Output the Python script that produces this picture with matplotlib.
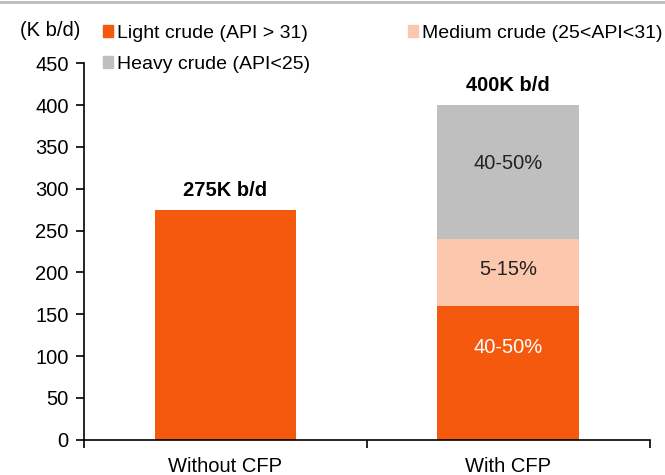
import matplotlib.pyplot as plt
from matplotlib.patches import Patch
from matplotlib.lines import Line2D

plt.rcParams['font.family'] = ['Liberation Sans', 'DejaVu Sans']
plt.rcParams['font.size'] = 14.5

categories = ["Without CFP", "With CFP"]
light = [275, 160]
medium = [0, 80]
heavy = [0, 160]
totals_text = ["275K b/d", "400K b/d"]
share_text = ["40-50%", "5-15%", "40-50%"]

c_light = "#F4590E"
c_medium = "#FBC8AE"
c_heavy = "#BFBFBF"

fig = plt.figure(figsize=(6.65, 4.75), dpi=100)
ax = fig.add_axes([0.126, 0.074, 0.851, 0.793])

x = [0.5, 1.5]
bot2 = [l + m for l, m in zip(light, medium)]
ax.bar(x, light, width=0.5, color=c_light)
ax.bar(x, medium, width=0.5, bottom=light, color=c_medium)
ax.bar(x, heavy, width=0.5, bottom=bot2, color=c_heavy)

for xi, l, m, h, t in zip(x, light, medium, heavy, totals_text):
    ax.text(xi, l + m + h + 12, t, ha="center", va="bottom", fontweight="bold")

ax.text(x[1], 110, share_text[0], ha="center", va="center", color="white")
ax.text(x[1], 203, share_text[1], ha="center", va="center", color="#222222")
ax.text(x[1], 330, share_text[2], ha="center", va="center", color="#222222")

ax.set_xlim(0, 2)
ax.set_ylim(0, 450)
ax.set_yticks(range(0, 451, 50))
ax.set_xticks([0, 1, 2])
ax.set_xticklabels([])
ax.set_xticks(x, minor=True)
ax.set_xticklabels(categories, minor=True)
ax.tick_params(axis="x", which="minor", length=0, pad=12)
ax.tick_params(axis="x", which="major", length=6, width=1.2, direction="out")
ax.tick_params(axis="y", length=6, width=1.2, direction="out", pad=5)
for s in ["top", "right"]:
    ax.spines[s].set_visible(False)
for s in ["left", "bottom"]:
    ax.spines[s].set_linewidth(1.2)

fig.text(0.03, 0.935, "(K b/d)", ha="left", va="center")

handles = [Patch(color=c_light), Patch(color=c_heavy), Patch(color=c_medium)]
labels = ["Light crude (API > 31)", "Heavy crude (API<25)", "Medium crude (25<API<31)"]
fig.legend(handles, labels, ncol=2, loc="upper left", bbox_to_anchor=(0.128, 0.985),
           frameon=False, handlelength=0.55, handleheight=0.55, handletextpad=0.2,
           columnspacing=5.0, labelspacing=0.75, fontsize=14)

fig.add_artist(Line2D([0, 1], [0.995, 0.995], color="#BBBBBB", linewidth=2))

fig.savefig("out.png", dpi=100)
